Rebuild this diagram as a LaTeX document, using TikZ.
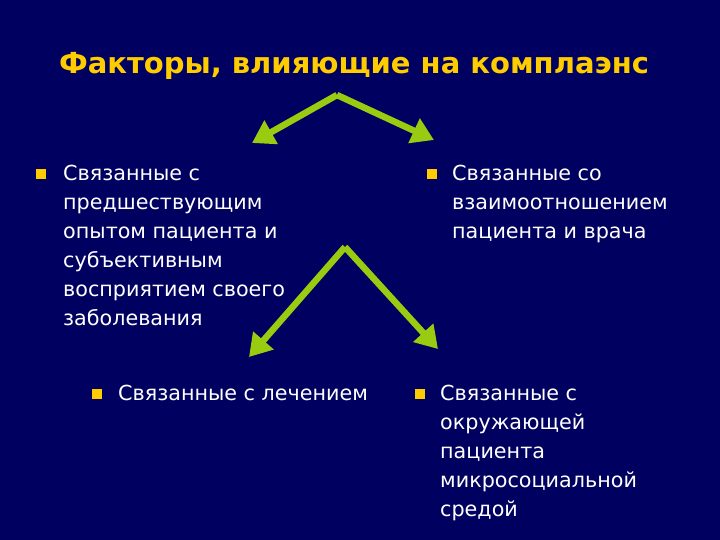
\documentclass[tikz,border=0pt]{standalone}
\usepackage{fontspec}
\setmainfont{DejaVu Sans}
\usetikzlibrary{arrows.meta}
\definecolor{bg}{HTML}{000060}
\definecolor{ttl}{HTML}{FFCC00}
\definecolor{arr}{HTML}{99CC11}
\begin{document}
\begin{tikzpicture}[x=1pt,y=-1pt,
  txt/.style={anchor=north west,align=left,text=white,font=\fontsize{20.7}{29}\selectfont,inner sep=0pt},
  bul/.style={fill=ttl,minimum size=10pt,inner sep=0pt},
  garrow/.style={draw=arr,line width=6.5pt,-{Triangle[length=22pt,width=26pt]}}]
\fill[bg] (0,0) rectangle (720,540);
\useasboundingbox (0,0) rectangle (720,540);
\node[text=ttl,font=\fontsize{29}{34}\selectfont\bfseries] (title) at (354,66) {Факторы, влияющие на комплаэнс};
\node[bul] (b1) at (41,174) {};
\node[txt] (t1) at (63,165) {Связанные с\\предшествующим\\опытом пациента и\\субъективным\\восприятием своего\\заболевания};
\node[bul] (b2) at (432,174) {};
\node[txt] (t2) at (452,165) {Связанные со\\взаимоотношением\\пациента и врача};
\node[bul] (b3) at (97,394) {};
\node[txt] (t3) at (118,385) {Связанные с лечением};
\node[bul] (b4) at (420,394) {};
\node[txt] (t4) at (440,385) {Связанные с\\окружающей\\пациента\\микросоциальной\\средой};
\coordinate (a1) at (337,95);
\coordinate (e1) at (252,143);
\coordinate (e2) at (434,140);
\coordinate (a2) at (345,247);
\coordinate (e3) at (249,357);
\coordinate (e4) at (438,349);
\draw[garrow] (a1) -- (e1);
\draw[garrow] (a1) -- (e2);
\draw[garrow] (a2) -- (e3);
\draw[garrow] (a2) -- (e4);
\end{tikzpicture}
\end{document}
